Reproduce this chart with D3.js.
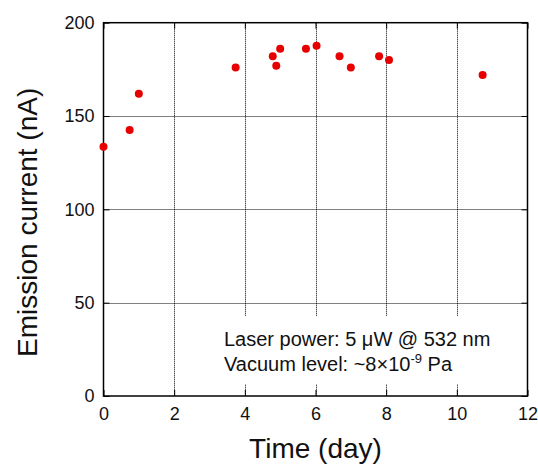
<!DOCTYPE html>
<html>
<head>
<meta charset="utf-8">
<script src="https://cdn.jsdelivr.net/npm/d3@7"></script>
<style>
  body { margin: 0; background: #fff; }
  svg { display: block; font-family: "Liberation Sans", Arial, sans-serif; }
</style>
</head>
<body>
<div id="chart"></div>
<script>
const days = [0, 0.74, 1.0, 3.74, 4.79, 4.89, 5.0, 5.73, 6.03, 6.68, 7.0, 7.8, 8.08, 10.73];
const current = [133.6, 142.5, 162, 176, 182, 177, 186, 186, 187.7, 182, 176, 182, 180, 172];
const xTicks = [0, 2, 4, 6, 8, 10, 12];
const yTicks = [0, 50, 100, 150, 200];

const width = 538, height = 464;
const plotLeft = 103.5, plotRight = 527.5, plotTop = 22.7, plotBottom = 396;

const x = d3.scaleLinear().domain([0, 12]).range([plotLeft, plotRight]);
const y = d3.scaleLinear().domain([0, 200]).range([plotBottom, plotTop]);

const svg = d3.select("#chart").append("svg")
    .attr("width", width)
    .attr("height", height);

// dotted grid
const grid = svg.append("g")
    .attr("stroke", "#000")
    .attr("stroke-width", 1)
    .attr("stroke-dasharray", "1,1");

grid.selectAll("line.vx")
    .data(xTicks.slice(1, -1))
    .join("line")
    .attr("x1", d => Math.round(x(d)) + 0.5)
    .attr("x2", d => Math.round(x(d)) + 0.5)
    .attr("y1", plotTop)
    .attr("y2", plotBottom);

grid.selectAll("line.hy")
    .data(yTicks.slice(1, -1))
    .join("line")
    .attr("x1", plotLeft)
    .attr("x2", plotRight)
    .attr("y1", d => Math.round(y(d)) + 0.5)
    .attr("y2", d => Math.round(y(d)) + 0.5);

// white box behind the annotation
svg.append("rect")
    .attr("x", 214)
    .attr("y", 316)
    .attr("width", 300)
    .attr("height", 68)
    .attr("fill", "#fff");

// axes with inward ticks
const fontSize = "18px";

const xAxis = svg.append("g")
    .attr("transform", `translate(0,${plotBottom})`)
    .call(d3.axisBottom(x).tickValues(xTicks).tickSize(-6).tickPadding(11).tickSizeOuter(0));

const yAxis = svg.append("g")
    .attr("transform", `translate(${plotLeft},0)`)
    .call(d3.axisLeft(y).tickValues(yTicks).tickSize(-6).tickPadding(9).tickSizeOuter(0));

[xAxis, yAxis].forEach(a => {
    a.select(".domain").remove();
    a.selectAll("line").attr("stroke", "#000");
    a.selectAll("text")
        .attr("fill", "#111")
        .style("font-size", fontSize)
        .style("font-family", "'Liberation Sans', Arial, sans-serif");
});

// mirrored ticks on top and right
svg.append("g")
    .attr("transform", `translate(0,${plotTop})`)
    .call(d3.axisTop(x).tickValues(xTicks).tickSize(-6).tickFormat("").tickSizeOuter(0))
    .call(g => g.select(".domain").remove());

svg.append("g")
    .attr("transform", `translate(${plotRight},0)`)
    .call(d3.axisRight(y).tickValues(yTicks).tickSize(-6).tickFormat("").tickSizeOuter(0))
    .call(g => g.select(".domain").remove());

// frame
svg.append("rect")
    .attr("x", plotLeft)
    .attr("y", plotTop)
    .attr("width", plotRight - plotLeft)
    .attr("height", plotBottom - plotTop)
    .attr("fill", "none")
    .attr("stroke", "#000")
    .attr("stroke-width", 1.5);

// points
svg.append("g")
    .attr("fill", "#e60000")
    .selectAll("circle")
    .data(days.map((d, i) => [d, current[i]]))
    .join("circle")
    .attr("cx", d => x(d[0]))
    .attr("cy", d => y(d[1]))
    .attr("r", 4);

// annotation
const note = svg.append("text")
    .attr("fill", "#111")
    .style("font-size", "20px");

note.append("tspan")
    .attr("x", 224)
    .attr("y", 346)
    .text("Laser power: 5 \u03bcW @ 532 nm");

const line2 = note.append("tspan")
    .attr("x", 224)
    .attr("y", 371)
    .text("Vacuum level: ~8\u00d710");
line2.append("tspan")
    .attr("dy", -8)
    .style("font-size", "13px")
    .text("-9");
line2.append("tspan")
    .attr("dy", 8)
    .text(" Pa");

// axis titles
svg.append("text")
    .attr("x", (plotLeft + plotRight) / 2)
    .attr("y", 458)
    .attr("text-anchor", "middle")
    .attr("fill", "#111")
    .style("font-size", "28px")
    .text("Time (day)");

svg.append("text")
    .attr("transform", `translate(37,${(plotTop + plotBottom) / 2 + 13}) rotate(-90)`)
    .attr("text-anchor", "middle")
    .attr("fill", "#111")
    .style("font-size", "28px")
    .text("Emission current (nA)");
</script>
</body>
</html>
